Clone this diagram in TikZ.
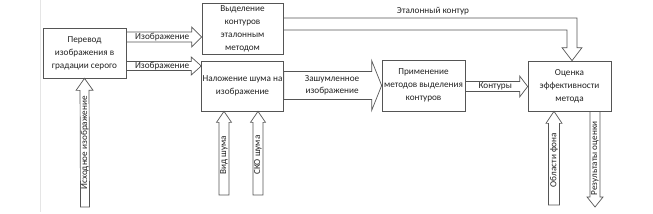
\documentclass[tikz,border=0pt]{standalone}
\usepackage{fontspec}
\setmainfont{Carlito}
\usetikzlibrary{calc, positioning}

\definecolor{linegray}{HTML}{555555}
\definecolor{textgray}{HTML}{222222}

\tikzset{
  procbox/.style={draw=linegray, line width=0.7pt, align=center, inner sep=1pt,
    font=\fontsize{9.2}{13}\selectfont, text=textgray},
  flowline/.style={draw=linegray, line width=0.7pt, line join=miter},
  flowlabel/.style={font=\fontsize{9.2}{12}\selectfont, text=textgray, inner sep=0.5pt, align=center}
}

% block arrow: [label options]{from}{to}{shaft half width}{head half width}{head length}{label name}{label}
\newcommand{\flowarrow}[8][]{%
  \coordinate (fa-base) at ($(#3)!#6!(#2)$);
  \draw[flowline] ($(#2)!#4!90:(#3)$) -- ($(fa-base)!#4!90:(#3)$) -- ($(fa-base)!#5!90:(#3)$) -- (#3)
    -- ($(fa-base)!#5!-90:(#3)$) -- ($(fa-base)!#4!-90:(#3)$) -- ($(#2)!#4!-90:(#3)$) -- cycle;
  \node[flowlabel, #1] (#7) at ($(#2)!0.55!(fa-base)$) {#8};
}

\begin{document}
\begin{tikzpicture}[x=1pt, y=-1pt]
\useasboundingbox (0,0) rectangle (653,214);
\draw[gray!20] (40,0) -- (40,212);

% blocks
\node[procbox, minimum width=83pt, minimum height=50pt] (gray) at (84.5,53) {Перевод\\изображения в\\градации серого};
\node[procbox, minimum width=81pt, minimum height=51pt] (etalon) at (242.5,28.5) {Выделение\\контуров\\эталонным\\методом};
\node[procbox, minimum width=81pt, minimum height=50pt] (noise) at (242.5,86) {Наложение шума на\\изображение};
\node[procbox, minimum width=83pt, minimum height=51pt] (detect) at (423.5,85.5) {Применение\\методов выделения\\контуров};
\node[procbox, minimum width=83pt, minimum height=50pt] (score) at (569.5,86) {Оценка\\эффективности\\метода};

% free ends
\coordinate (src) at (85,207);
\coordinate (kind) at (224,195);
\coordinate (sko) at (258,195);
\coordinate (bg) at (554,205);
\coordinate (result) at (595,207);
\coordinate (ab-end) at ($(etalon.west)+(0,8.5)$);
\coordinate (ac-end) at ($(noise.west)+(0,-20)$);
\coordinate (cd-end) at (detect.west);
\coordinate (de-end) at ($(score.west)+(0,0.5)$);
\coordinate (ref-tip) at ($(score.north)+(2.5,0)$);

% connectors
\flowarrow[rotate=90]{src}{gray.south}{4.5pt}{8.5pt}{12pt}{lbl-src}{Исходное изображение}
\flowarrow{gray.east |- ab-end}{ab-end}{5pt}{10pt}{10pt}{lbl-ab}{Изображение}
\flowarrow{gray.east |- ac-end}{ac-end}{4.5pt}{9pt}{10pt}{lbl-ac}{Изображение}
\flowarrow{noise.east |- cd-end}{cd-end}{14pt}{25pt}{10pt}{lbl-cd}{Зашумленное\\изображение}
\flowarrow{detect.east |- de-end}{de-end}{5pt}{10.5pt}{8pt}{lbl-de}{Контуры}
\flowarrow[rotate=90]{kind}{kind |- noise.south}{5pt}{7.5pt}{11pt}{lbl-kind}{Вид шума}
\flowarrow[rotate=90]{sko}{sko |- noise.south}{5pt}{7.5pt}{11pt}{lbl-sko}{СКО шума}
\flowarrow[rotate=90]{bg}{bg |- score.south}{5.5pt}{8pt}{12pt}{lbl-bg}{Области фона}
\flowarrow[rotate=90]{result |- score.south}{result}{5pt}{8pt}{10pt}{lbl-result}{Результаты оценки}

% reference contour, bent
\draw[flowline] ($(etalon.east)+(0,-10.5)$) -| ($(ref-tip)+(5,-13)$) -- ($(ref-tip)+(10,-13)$) -- (ref-tip)
  -- ($(ref-tip)+(-10,-13)$) -- ($(ref-tip)+(-5,-13)$) |- ($(etalon.east)+(0,1.5)$) -- cycle;
\node[flowlabel] (lbl-ref) at (433,11) {Эталонный контур};
\end{tikzpicture}
\end{document}
